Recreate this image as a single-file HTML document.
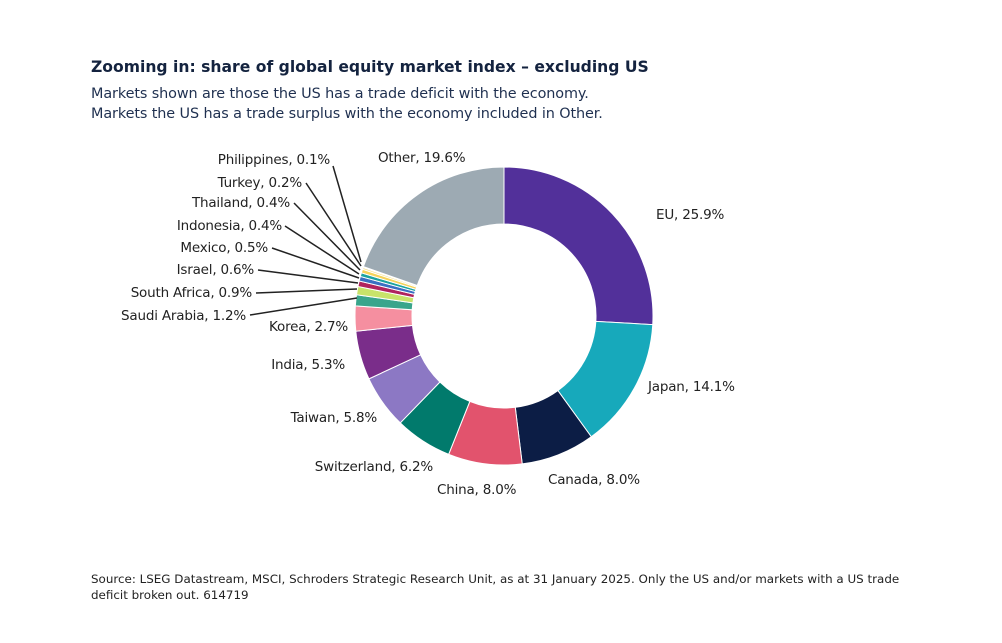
<!DOCTYPE html>
<html><head><meta charset="utf-8"><style>
body{margin:0;background:#fff;width:1002px;height:643px;overflow:hidden;font-family:"DejaVu Sans",sans-serif;color:#222}
.t{position:absolute;left:91px;top:58px;font-size:15.6px;font-weight:bold;color:#14233f}
.s{position:absolute;left:91px;top:84px;font-size:14.4px;line-height:20px;color:#1f3050;letter-spacing:-0.1px}
.src{position:absolute;left:91px;top:571px;font-size:11.9px;line-height:16px;color:#222}
svg{position:absolute;left:0;top:0}
svg text{font-family:"DejaVu Sans",sans-serif;font-size:13.5px;fill:#222;letter-spacing:-0.2px}
</style></head><body>
<div class="t">Zooming in: share of global equity market index – excluding US</div>
<div class="s">Markets shown are those the US has a trade deficit with the economy.<br>Markets the US has a trade surplus with the economy included in Other.</div>
<svg id="c" width="1002" height="643">
<g id="p"></g>
<g stroke="#222" stroke-width="1.5">
<line x1="333" y1="166" x2="361" y2="262"/>
<line x1="306" y1="183" x2="361" y2="266"/>
<line x1="294" y1="203" x2="360" y2="270"/>
<line x1="285" y1="226" x2="359" y2="274"/>
<line x1="272" y1="248" x2="359" y2="278"/>
<line x1="258" y1="270" x2="358" y2="283"/>
<line x1="256" y1="293" x2="357" y2="289"/>
<line x1="250" y1="315" x2="357" y2="298"/>
</g>
<g text-anchor="end">
<text x="330" y="164">Philippines, 0.1%</text>
<text x="302" y="187">Turkey, 0.2%</text>
<text x="290" y="207">Thailand, 0.4%</text>
<text x="282" y="230">Indonesia, 0.4%</text>
<text x="268" y="252">Mexico, 0.5%</text>
<text x="254" y="274">Israel, 0.6%</text>
<text x="252" y="297">South Africa, 0.9%</text>
<text x="246" y="320">Saudi Arabia, 1.2%</text>
<text x="348" y="331">Korea, 2.7%</text>
<text x="345" y="369">India, 5.3%</text>
<text x="377" y="422">Taiwan, 5.8%</text>
<text x="433" y="471">Switzerland, 6.2%</text>
</g>
<text x="437" y="494">China, 8.0%</text>
<text x="548" y="484">Canada, 8.0%</text>
<text x="648" y="391">Japan, 14.1%</text>
<text x="656" y="219">EU, 25.9%</text>
<text x="378" y="162">Other, 19.6%</text>
</svg>
<div class="src">Source: LSEG Datastream, MSCI, Schroders Strategic Research Unit, as at 31 January 2025. Only the US and/or markets with a US trade<br>deficit broken out. 614719</div>
<script>
var d=[[25.9,"#52309a"],[14.1,"#17a9bb"],[8,"#0c1d45"],[8,"#e2536d"],[6.2,"#017a6c"],[5.8,"#8c78c4"],[5.3,"#7a2d8a"],[2.7,"#f58fa0"],[1.2,"#3aa58c"],[0.9,"#c8e36a"],[0.6,"#b0235e"],[0.5,"#3a6fc2"],[0.4,"#1aa3a0"],[0.4,"#f5d35a"],[0.2,"#f6e08a"],[0.1,"#dddddd"],[19.6,"#9daab3"]];
var cx=504,cy=316,R=149,r=92,tot=99.9,a=0,h="";
function pt(rad,ang){return (cx+rad*Math.sin(ang)).toFixed(2)+","+(cy-rad*Math.cos(ang)).toFixed(2)}
d.forEach(function(s){var b=a+s[0]/tot*2*Math.PI,l=(b-a)>Math.PI?1:0;
h+='<path d="M'+pt(R,a)+' A'+R+','+R+' 0 '+l+' 1 '+pt(R,b)+' L'+pt(r,b)+' A'+r+','+r+' 0 '+l+' 0 '+pt(r,a)+' Z" fill="'+s[1]+'" stroke="#fff" stroke-width="1"/>';a=b;});
document.getElementById("p").innerHTML=h;
</script>
</body></html>
